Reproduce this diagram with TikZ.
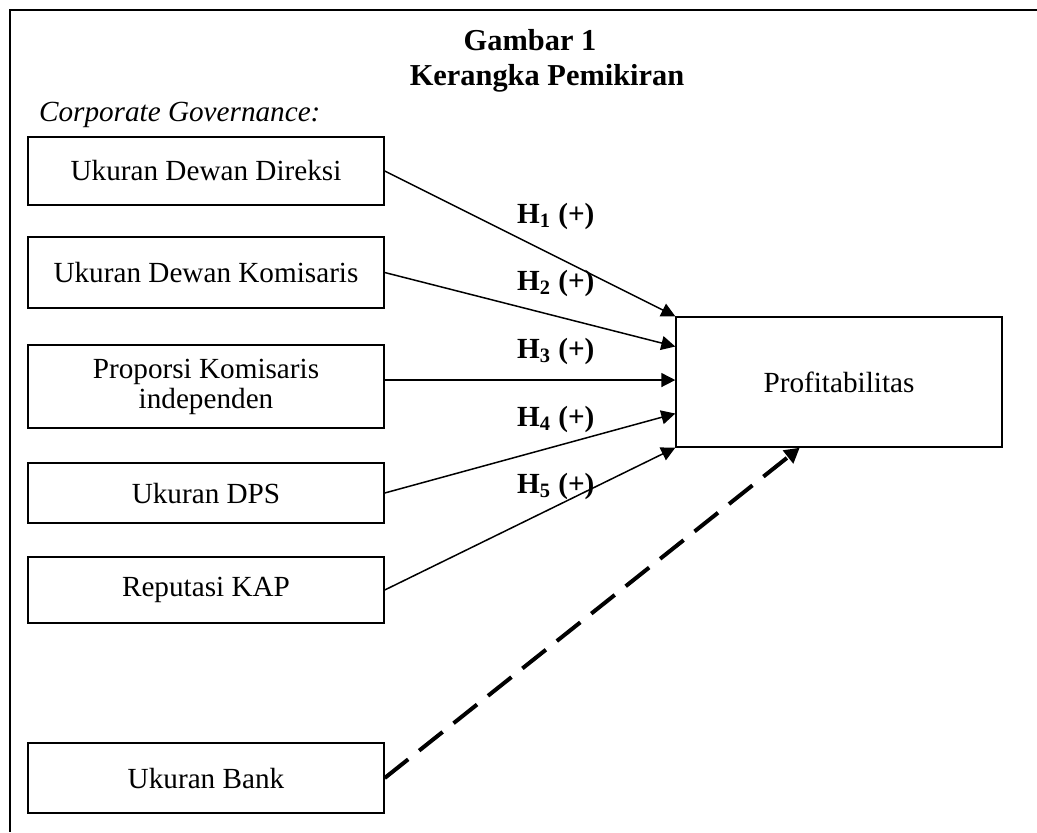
\documentclass[tikz,border=0pt]{standalone}
\usepackage{fontspec}
\setmainfont{Liberation Serif}
\usetikzlibrary{arrows.meta,calc,positioning}
\tikzset{
>={Triangle[length=7pt,width=7pt]},
  varbox/.style={
    rectangle,
    draw=black, line width=0.7pt,
    minimum width=178pt,
    inner sep=0pt,
    align=center},
  pengaruh/.style={draw, ->, line width=0.75pt},
  kontrol/.style={draw, -{Triangle[length=7.5pt,width=8pt]}, line width=2pt,
    dash pattern=on 15pt off 7pt},
  hyp/.style={anchor=base west, font=\fontsize{14.6}{14}\selectfont\bfseries},
}

\begin{document}
\begin{tikzpicture}[
    x=0.5pt, y=-0.5pt,
    every node/.style={font=\fontsize{14.6}{15}\selectfont},
    title text/.style={anchor=base, font=\fontsize{15.2}{15}\selectfont\bfseries},
    frame line/.style={line width=1pt}
    ]
    \useasboundingbox (0,0) rectangle (1037,832);

    %frame
    \draw[frame line] (1037,10) -- (10,10) -- (10,832);

    %title
    \node[title text] (judul) at (530,50) {Gambar 1};
    \node[title text] (subjudul) at (547,85) {Kerangka Pemikiran};
    \node[anchor=base west, font=\fontsize{14.6}{14}\selectfont\itshape] (cg) at (32,121)
        {Corporate Governance:};

    %variables
    \node[varbox, minimum height=34pt] (direksi) at (206,171) {Ukuran Dewan Direksi};
    \node[varbox, minimum height=35.5pt] (komisaris) at (206,272.5) {Ukuran Dewan Komisaris};
    \node[varbox, minimum height=41.5pt] (independen) at (206,386.5)
        {Proporsi Komisaris\\ independen};
    \node[varbox, minimum height=30pt] (dps) at (206,493) {Ukuran DPS};
    \node[varbox, minimum height=33pt] (kap) at (206,590) {Reputasi KAP};
    \node[varbox, minimum height=35pt] (bank) at (206,778) {Ukuran Bank};
    \node[varbox, minimum width=163pt, minimum height=65pt] (profit) at (839,382)
        {Profitabilitas};

    %arrow ends
    \coordinate (p2) at ($(profit.north west)!0.23!(profit.south west)$);
    \coordinate (p3) at ($(profit.north west)!0.485!(profit.south west)$);
    \coordinate (p4) at ($(profit.north west)!0.74!(profit.south west)$);
    \coordinate (pb) at ($(profit.south west)!0.38!(profit.south east)$);

    %hypotheses
    \draw[pengaruh] (direksi.east) -- (profit.north west);
    \draw[pengaruh] (komisaris.east) -- (p2);
    \draw[pengaruh] (independen.east |- p3) -- (p3);
    \draw[pengaruh] (dps.east) -- (p4);
    \draw[pengaruh] (kap.east) -- (profit.south west);
    \draw[kontrol] (bank.east) -- (pb);

    %labels
    \node[hyp] (h1) at (510,223) {H\textsubscript{1} (+)};
    \node[hyp] (h2) at (510,290) {H\textsubscript{2} (+)};
    \node[hyp] (h3) at (510,358) {H\textsubscript{3} (+)};
    \node[hyp] (h4) at (510,426) {H\textsubscript{4} (+)};
    \node[hyp] (h5) at (510,493) {H\textsubscript{5} (+)};

\end{tikzpicture}
\end{document}
